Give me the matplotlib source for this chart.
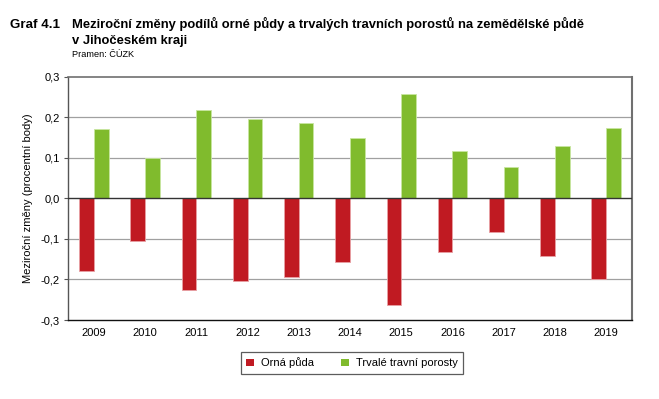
import matplotlib
matplotlib.use("Agg")
import matplotlib.pyplot as plt
import numpy as np

years = ["2009", "2010", "2011", "2012", "2013", "2014", "2015", "2016", "2017", "2018", "2019"]
orna_puda = [-0.178, -0.106, -0.226, -0.204, -0.194, -0.157, -0.263, -0.132, -0.083, -0.143, -0.199]
ttp = [0.172, 0.100, 0.217, 0.195, 0.187, 0.150, 0.258, 0.118, 0.078, 0.129, 0.174]
series_names = ["Orná půda", "Trvalé travní porosty"]
yticks = [-0.3, -0.2, -0.1, 0.0, 0.1, 0.2, 0.3]
ytick_labels = ["-0,3", "-0,2", "-0,1", "0,0", "0,1", "0,2", "0,3"]

RED = "#C01A22"
GREEN = "#80BB2D"

plt.rcParams['font.family'] = ['Liberation Sans', 'DejaVu Sans']

fig = plt.figure(figsize=(6.59, 3.99), dpi=100)
ax = fig.add_axes([68.3 / 659, 1 - 320 / 399, (631.7 - 68.3) / 659, (320 - 76.7) / 399])

x = np.arange(len(years))
w = 0.287
ax.bar(x - w / 2, orna_puda, width=w, color=RED, edgecolor="#E8A0A4", linewidth=0.6, label=series_names[0], zorder=3)
ax.bar(x + w / 2, ttp, width=w, color=GREEN, edgecolor="#C8E6A0", linewidth=0.6, label=series_names[1], zorder=3)

ax.set_xlim(-0.5, len(years) - 0.5)
ax.set_ylim(-0.3, 0.3)
ax.set_yticks(yticks)
ax.set_yticklabels(ytick_labels, fontsize=8)
ax.set_xticks(x)
ax.set_xticklabels(years, fontsize=8)
ax.tick_params(axis='x', length=0, pad=6)
ax.tick_params(axis='y', length=3, width=0.8, color="#555555", pad=3)

for yv in yticks:
    if yv == 0:
        ax.axhline(0, color="#333333", linewidth=1.0, zorder=4)
    elif abs(yv) < 0.3:
        ax.axhline(yv, color="#A0A0A0", linewidth=0.9, zorder=1)

ax.spines['left'].set_color("#555555")
ax.spines['left'].set_linewidth(1.0)
ax.spines['bottom'].set_color("#111111")
ax.spines['bottom'].set_linewidth(1.0)
ax.spines['top'].set_color("#707070")
ax.spines['top'].set_linewidth(1.2)
ax.spines['right'].set_color("#707070")
ax.spines['right'].set_linewidth(1.5)

ax.set_ylabel("Meziroční změny (procentní body)", fontsize=8, labelpad=6)

fig.text(10 / 659, 1 - 28 / 399, "Graf 4.1", fontsize=9.6, fontweight='bold', va='baseline', ha='left')
fig.text(72 / 659, 1 - 28 / 399, "Meziroční změny podílů orné půdy a trvalých travních porostů na zemědělské půdě",
         fontsize=9.4, fontweight='bold', va='baseline', ha='left')
fig.text(72 / 659, 1 - 44 / 399, "v Jihočeském kraji", fontsize=9.4, fontweight='bold', va='baseline', ha='left')
fig.text(72 / 659, 1 - 57 / 399, "Pramen: ČÚZK", fontsize=6.6, va='baseline', ha='left')

leg = fig.legend(loc='center', bbox_to_anchor=(352 / 659, 1 - 363 / 399), ncol=2, fontsize=8,
                 frameon=True, fancybox=False, edgecolor="#333333", handlelength=0.7, handleheight=0.7,
                 columnspacing=2.5, handletextpad=0.6, borderpad=0.5)
leg.get_frame().set_linewidth(0.9)
for h in leg.legend_handles:
    h.set_edgecolor('none')

fig.savefig("out.png", dpi=100)
